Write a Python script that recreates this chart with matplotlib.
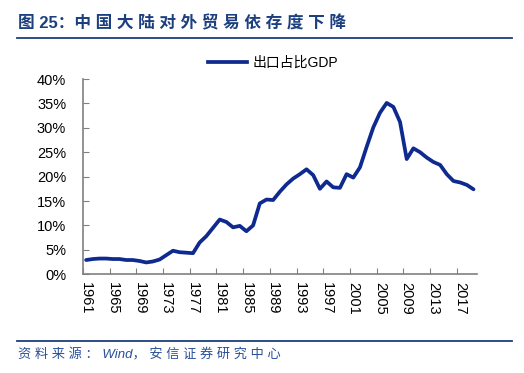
import numpy as np
import matplotlib.pyplot as plt
from matplotlib.lines import Line2D

plt.rcParams['font.family'] = ['Liberation Sans', 'Noto Sans CJK SC']

years = list(range(1961, 2020))
export_share = [
    2.9, 3.1, 3.2, 3.2, 3.1, 3.1, 2.9, 2.9, 2.7, 2.4,   # 1961-1970
    2.6, 3.0, 3.9, 4.8, 4.5, 4.4, 4.3, 6.5, 7.8, 9.5,   # 1971-1980
    11.2, 10.7, 9.6, 9.9, 8.8, 10.0, 14.5, 15.3, 15.2, 16.9,  # 1981-1990
    18.4, 19.6, 20.5, 21.5, 20.3, 17.5, 19.0, 17.8, 17.7, 20.5,  # 1991-2000
    19.8, 21.9, 26.1, 30.1, 33.1, 35.1, 34.3, 31.2, 23.6, 25.8,  # 2001-2010
    25.0, 23.9, 23.0, 22.4, 20.5, 19.1, 18.8, 18.3, 17.4,        # 2011-2019
]
yticks = [0, 5, 10, 15, 20, 25, 30, 35, 40]

navy = '#0f2a8f'
title_blue = '#1c3f7f'

fig = plt.figure(figsize=(5.24, 3.73), dpi=100)
ax = fig.add_axes([0.158, 0.265, 0.752, 0.523])

x = np.arange(len(years))
ax.plot(x, export_share, color=navy, lw=2.7, solid_joinstyle='round', solid_capstyle='round')

ax.set_xlim(-0.5, len(years) - 0.5)
ax.set_ylim(0, 40)
ax.set_yticks(yticks)
ax.set_yticklabels(['%d%%' % v for v in yticks], fontsize=10.5)

# tick marks on category boundaries, labels on category centres
ax.set_xticks(np.arange(-0.5, len(years), 4))
ax.set_xticklabels([])
ax.set_xticks(x[::4], minor=True)
ax.set_xticklabels([str(y) for y in years[::4]], minor=True, rotation=-90, fontsize=10.5)
ax.tick_params(axis='x', which='minor', length=0, pad=6)
ax.tick_params(axis='x', which='major', direction='in', length=4, color='#808080')
ax.tick_params(axis='y', direction='in', length=4, color='#808080', pad=12)

for s in ['top', 'right']:
    ax.spines[s].set_visible(False)
for s in ['left', 'bottom']:
    ax.spines[s].set_color('#808080')
    ax.spines[s].set_linewidth(1.2)

handle = Line2D([], [], color=navy, lw=2.7)
fig.legend([handle], ['出口占比GDP'], loc='center', bbox_to_anchor=(273 / 524, 1 - 63 / 373),
           frameon=False, fontsize=10, handlelength=2.8, handletextpad=0.4)

fig.text(0.034, 0.937, '图 25：' + ' '.join('中国大陆对外贸易依存度下降'), fontsize=12,
         fontweight='bold', color=title_blue, va='center', ha='left')
fig.add_artist(Line2D([0.032, 0.978], [0.898, 0.898], color=title_blue, lw=1.3))
fig.add_artist(Line2D([0.032, 0.978], [0.086, 0.086], color=title_blue, lw=1.3))
fig.text(0.034, 0.048, ' '.join('资料来源：') + ' Wind， ' + ' '.join('安信证券研究中心'),
         fontsize=9.5, style='italic', color='#2a4f9a', va='center', ha='left')

fig.savefig('out.png', dpi=100)
